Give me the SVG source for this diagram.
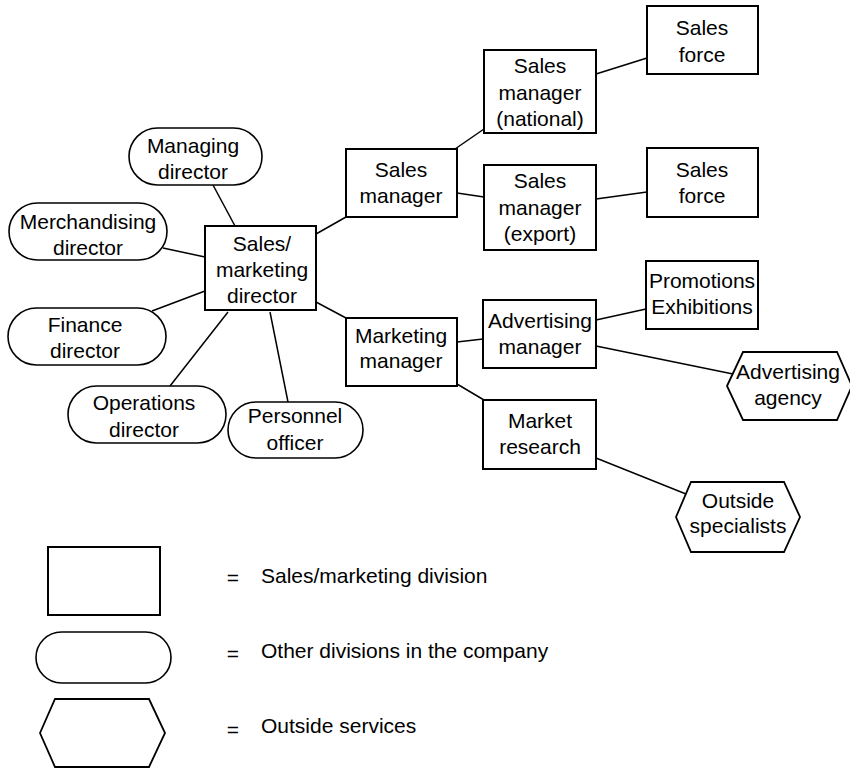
<svg xmlns="http://www.w3.org/2000/svg" width="850" height="768" viewBox="0 0 850 768">
  <style>
    .box { fill: #fff; stroke: #000; stroke-width: 2; }
    .pill { fill: #fff; stroke: #000; stroke-width: 1.6; }
    .hex { fill: #fff; stroke: #000; stroke-width: 1.8; stroke-linejoin: miter; }
    .link { stroke: #000; stroke-width: 1.5; fill: none; }
    text { font-family: "Liberation Sans", Arial, sans-serif; font-size: 21px; fill: #000; }
    .c { text-anchor: middle; }
  </style>
  <rect width="850" height="768" fill="#fff"/>

  <!-- connectors -->
  <g id="connectors" class="link">
    <line x1="213" y1="185" x2="235" y2="226"/>
    <line x1="163" y1="248" x2="205" y2="257"/>
    <line x1="152" y1="311" x2="205" y2="291"/>
    <line x1="170" y1="386" x2="228" y2="312"/>
    <line x1="288" y1="402" x2="270" y2="312"/>
    <line x1="316" y1="234" x2="346" y2="217"/>
    <line x1="316" y1="302" x2="346" y2="318"/>
    <line x1="455" y1="149" x2="484" y2="129"/>
    <line x1="457" y1="193" x2="484" y2="197"/>
    <line x1="596" y1="74" x2="647" y2="58"/>
    <line x1="596" y1="199" x2="647" y2="192"/>
    <line x1="457" y1="342" x2="483" y2="339"/>
    <line x1="457" y1="384" x2="484" y2="400"/>
    <line x1="596" y1="320" x2="646" y2="309"/>
    <line x1="596" y1="346" x2="733" y2="374"/>
    <line x1="596" y1="458" x2="686" y2="494"/>
  </g>

  <!-- other divisions (rounded) -->
  <g id="managing-director">
    <rect class="pill" x="129" y="128" width="133" height="57" rx="28.5"/>
    <text class="c" x="193" y="153">Managing</text>
    <text class="c" x="193" y="179">director</text>
  </g>
  <g id="merchandising-director">
    <rect class="pill" x="9" y="203" width="158" height="57" rx="28.5"/>
    <text class="c" x="88" y="229">Merchandising</text>
    <text class="c" x="88" y="255">director</text>
  </g>
  <g id="finance-director">
    <rect class="pill" x="8" y="308" width="158" height="57" rx="28.5"/>
    <text class="c" x="85" y="332">Finance</text>
    <text class="c" x="85" y="358">director</text>
  </g>
  <g id="operations-director">
    <rect class="pill" x="68" y="386" width="158" height="57" rx="28.5"/>
    <text class="c" x="144" y="410">Operations</text>
    <text class="c" x="144" y="437">director</text>
  </g>
  <g id="personnel-officer">
    <rect class="pill" x="228" y="402" width="135" height="56" rx="28"/>
    <text class="c" x="295" y="423">Personnel</text>
    <text class="c" x="295" y="450">officer</text>
  </g>

  <!-- sales/marketing division (boxes) -->
  <g id="sales-marketing-director">
    <rect class="box" x="205" y="226" width="111" height="84"/>
    <text class="c" x="262" y="251">Sales/</text>
    <text class="c" x="262" y="277">marketing</text>
    <text class="c" x="262" y="303">director</text>
  </g>
  <g id="sales-manager">
    <rect class="box" x="346" y="149" width="111" height="68"/>
    <text class="c" x="401" y="177">Sales</text>
    <text class="c" x="401" y="203">manager</text>
  </g>
  <g id="sales-manager-national">
    <rect class="box" x="484" y="50" width="112" height="83"/>
    <text class="c" x="540" y="73">Sales</text>
    <text class="c" x="540" y="100">manager</text>
    <text class="c" x="540" y="126">(national)</text>
  </g>
  <g id="sales-manager-export">
    <rect class="box" x="484" y="165" width="112" height="85"/>
    <text class="c" x="540" y="188">Sales</text>
    <text class="c" x="540" y="215">manager</text>
    <text class="c" x="540" y="241">(export)</text>
  </g>
  <g id="sales-force-national">
    <rect class="box" x="647" y="6" width="111" height="68"/>
    <text class="c" x="702" y="35">Sales</text>
    <text class="c" x="702" y="62">force</text>
  </g>
  <g id="sales-force-export">
    <rect class="box" x="647" y="148" width="111" height="69"/>
    <text class="c" x="702" y="177">Sales</text>
    <text class="c" x="702" y="203">force</text>
  </g>
  <g id="marketing-manager">
    <rect class="box" x="346" y="318" width="111" height="68"/>
    <text class="c" x="401" y="343">Marketing</text>
    <text class="c" x="401" y="368">manager</text>
  </g>
  <g id="advertising-manager">
    <rect class="box" x="483" y="300" width="113" height="68"/>
    <text class="c" x="540" y="328">Advertising</text>
    <text class="c" x="540" y="354">manager</text>
  </g>
  <g id="promotions-exhibitions">
    <rect class="box" x="646" y="261" width="112" height="68"/>
    <text class="c" x="702" y="288">Promotions</text>
    <text class="c" x="702" y="314">Exhibitions</text>
  </g>
  <g id="market-research">
    <rect class="box" x="483" y="400" width="113" height="69"/>
    <text class="c" x="540" y="428">Market</text>
    <text class="c" x="540" y="454">research</text>
  </g>

  <!-- outside services (hexagons) -->
  <g id="advertising-agency">
    <polygon class="hex" points="727,386 743,352 837,352 852,386 837,420 743,420"/>
    <text class="c" x="788" y="379">Advertising</text>
    <text class="c" x="788" y="405">agency</text>
  </g>
  <g id="outside-specialists">
    <polygon class="hex" points="676,517 691,482 784,482 800,517 784,552 691,552"/>
    <text class="c" x="738" y="508">Outside</text>
    <text class="c" x="738" y="533">specialists</text>
  </g>

  <!-- key -->
  <g id="legend">
    <rect class="box" x="48" y="547" width="112" height="68"/>
    <rect class="pill" x="36" y="632" width="135" height="51" rx="25.5"/>
    <polygon class="hex" points="40,733 55,699 149,699 165,733 149,767 55,767"/>
    <text class="c" x="233" y="585">=</text>
    <text x="261" y="583">Sales/marketing division</text>
    <text class="c" x="233" y="661">=</text>
    <text x="261" y="658">Other divisions in the company</text>
    <text class="c" x="233" y="737">=</text>
    <text x="261" y="733">Outside services</text>
  </g>
</svg>
